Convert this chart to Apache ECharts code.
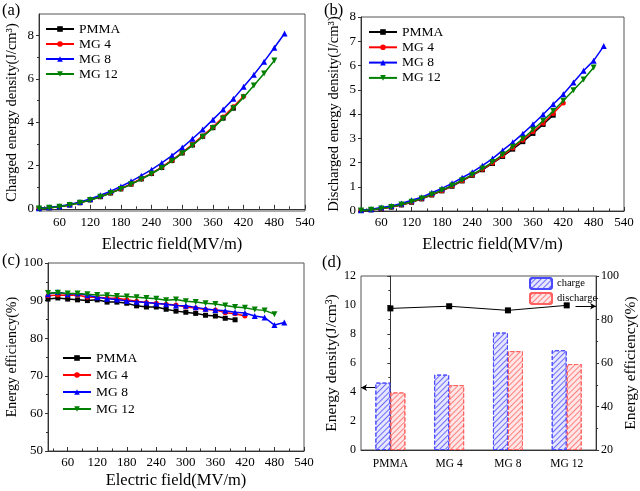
<!DOCTYPE html>
<html><head><meta charset="utf-8">
<script src="https://cdn.jsdelivr.net/npm/echarts@6/dist/echarts.min.js"></script>
<style>html,body{margin:0;padding:0;background:#fff}#c{width:640px;height:491px}</style>
</head><body><div id="c"></div>
<script>
// ---------- data ----------
const field = [20,40,60,80,100,120,140,160,180,200,220,240,260,280,300,320,340,360,380,400,420,440,460,480,500];
const xTickVals = [60,120,180,240,300,360,420,480,540];
const xMinorVals = [30,90,150,210,270,330,390,450,510];
const seriesNames = ['PMMA','MG 4','MG 8','MG 12'];

const chargePMMA = [0.02,0.05,0.1,0.18,0.28,0.41,0.56,0.73,0.92,1.14,1.38,1.63,1.91,2.23,2.58,2.95,3.35,3.75,4.19,4.65];
const chargeMG4  = [0.02,0.05,0.1,0.18,0.29,0.42,0.57,0.74,0.93,1.15,1.39,1.64,1.93,2.25,2.6,2.98,3.37,3.78,4.24,4.72,5.2];
const chargeMG8  = [0.03,0.07,0.12,0.2,0.32,0.46,0.63,0.82,1.03,1.27,1.53,1.81,2.12,2.46,2.83,3.24,3.66,4.12,4.59,5.08,5.64,6.19,6.8,7.44,8.1];
const chargeMG12 = [0.02,0.05,0.1,0.18,0.28,0.41,0.56,0.73,0.92,1.13,1.37,1.62,1.9,2.22,2.57,2.93,3.33,3.73,4.17,4.65,5.15,5.7,6.25,6.85];

const dischPMMA = [0.02,0.05,0.09,0.16,0.25,0.36,0.5,0.66,0.83,1.02,1.24,1.47,1.7,1.96,2.25,2.55,2.86,3.2,3.57,3.95];
const dischMG4  = [0.02,0.05,0.09,0.16,0.26,0.37,0.51,0.67,0.84,1.04,1.25,1.48,1.72,1.98,2.28,2.6,2.92,3.27,3.62,4.02,4.45];
const dischMG8  = [0.03,0.07,0.14,0.21,0.31,0.44,0.57,0.75,0.93,1.14,1.37,1.6,1.87,2.16,2.5,2.83,3.19,3.58,3.98,4.4,4.81,5.3,5.78,6.2,6.8];
const dischMG12 = [0.02,0.05,0.1,0.17,0.27,0.38,0.52,0.68,0.86,1.05,1.27,1.5,1.75,2.02,2.33,2.65,2.98,3.35,3.72,4.12,4.55,4.98,5.42,5.92];

const effPMMA = [90.4,90.7,90.4,90.2,90.0,90.2,89.6,89.6,89.3,88.6,88.3,88.3,87.7,87.2,86.9,86.6,86.1,85.9,85.3,84.9];
const effMG4  = [91.3,91.5,91.4,91.5,90.9,90.9,90.7,90.6,90.2,89.8,89.5,89.3,89.0,88.8,88.3,88.0,87.6,87.5,86.8,86.5,85.9];
const effMG8  = [91.7,92.3,91.7,91.9,91.4,90.9,90.5,90.3,89.9,89.7,89.5,89.2,89.0,88.7,88.6,88.2,87.8,87.5,87.3,86.9,86.7,85.9,85.5,83.5,84.2];
const effMG12 = [92.0,92.1,91.9,91.9,91.7,91.5,91.4,91.2,91.1,90.9,90.7,90.5,90.1,90.3,89.8,89.6,89.3,89.1,88.7,88.3,88.1,87.6,87.4,86.4];

const samples = ['PMMA','MG 4','MG 8','MG 12'];
const chargeMax = [4.65,5.2,8.1,6.88];
const dischargeMax = [3.97,4.48,6.82,5.93];
const effMax = [85.1,86.1,84.2,86.5];

// ---------- styles ----------
const FONT = "'Liberation Serif','Times New Roman',serif";
const colors = ['#000000','#ff0000','#0000ff','#008000'];
const symbols = ['rect','circle','triangle','path://M0,0 L10,0 L5,9 Z'];
const symSizes = [5,5,6,6];
const AX = '#333';

function pairs(arr){ return arr.map((v,i)=>[field[i], v]); }

function xAxes(grid, name, gap){
  return [{
    type:'value', gridIndex:grid, min:20, max:540, position:'bottom',
    name:name, nameLocation:'middle', nameGap:gap,
    nameTextStyle:{fontFamily:FONT,fontSize:16.5,color:'#000'},
    axisLine:{show:true,lineStyle:{color:AX,width:1}},
    axisTick:{show:true,inside:true,length:4,customValues:xTickVals,lineStyle:{color:AX}},
    axisLabel:{customValues:xTickVals,fontFamily:FONT,fontSize:13,color:'#000',margin:5},
    splitLine:{show:false}
  },{
    type:'value', gridIndex:grid, min:20, max:540, position:'bottom',
    axisLine:{show:false},
    axisTick:{show:true,inside:true,length:2.5,customValues:xMinorVals,lineStyle:{color:AX}},
    axisLabel:{show:false, customValues:[]},
    splitLine:{show:false}
  }];
}

function lineSeries(names, arrs, xi, yi){
  return arrs.map((a,k)=>({
    name:names[k], type:'line', xAxisIndex:xi, yAxisIndex:yi,
    data:pairs(a), symbol:symbols[k], symbolSize:symSizes[k],
    itemStyle:{color:colors[k]}, lineStyle:{color:colors[k],width:1.5},
    z: k===3 ? 4 : (k===2?3:2)
  }));
}

function legendFor(left, top, gap){
  return {
    data:seriesNames, orient:'vertical', left:left, top:top, padding:0,
    itemWidth:28, itemHeight:7, itemGap:gap,
    textStyle:{fontFamily:FONT,fontSize:13.5,color:'#000',lineHeight:14},
    selectedMode:false
  };
}

const yNameStyle = (fs)=>({fontFamily:FONT,fontSize:fs,color:'#000'});
const gridBorder = {show:true,borderColor:'#555',borderWidth:1};

const option = {
  backgroundColor:'#fff',
  animation:false,
  title:[
    {text:'(a)',left:2,top:2,textStyle:{fontFamily:FONT,fontSize:16.5,fontWeight:'normal',color:'#000'},padding:0},
    {text:'(b)',left:324,top:2,textStyle:{fontFamily:FONT,fontSize:16.5,fontWeight:'normal',color:'#000'},padding:0},
    {text:'(c)',left:2,top:252,textStyle:{fontFamily:FONT,fontSize:16.5,fontWeight:'normal',color:'#000'},padding:0},
    {text:'(d)',left:322,top:254,textStyle:{fontFamily:FONT,fontSize:16.5,fontWeight:'normal',color:'#000'},padding:0}
  ],
  grid:[
    Object.assign({left:39,top:14,width:266,height:197},gridBorder),
    Object.assign({left:361,top:17,width:263,height:194},gridBorder),
    Object.assign({left:48,top:263,width:256,height:188},gridBorder),
    Object.assign({left:361,top:276,width:237,height:174},gridBorder)
  ],
  legend:[
    legendFor(45,22,1),
    legendFor(368,25,1.3),
    legendFor(62,351,3),
    {data:['charge','discharge'],orient:'vertical',left:529,top:277,padding:0,
     itemWidth:22,itemHeight:11,itemGap:2,selectedMode:false,
     textStyle:{fontFamily:FONT,fontSize:10.5,color:'#000'}}
  ],
  xAxis:[
    ...xAxes(0,'Electric field(MV/m)',25),
    ...xAxes(1,'Electric field(MV/m)',25),
    ...xAxes(2,'Electric field(MV/m)',21),
    {type:'category',gridIndex:3,data:samples,position:'bottom',
     axisLine:{lineStyle:{color:AX}},axisTick:{show:false},
     axisLabel:{fontFamily:FONT,fontSize:11.5,color:'#000',margin:8}},
    {type:'value',gridIndex:3,min:-0.5,max:3.5,show:false}
  ],
  yAxis:[
    {type:'value',gridIndex:0,min:-0.1,max:9,position:'left',
     name:'Charged energy density(J/cm³)',nameLocation:'middle',nameGap:19,nameRotate:90,
     nameTextStyle:yNameStyle(14.5),
     axisLine:{show:true,lineStyle:{color:AX}},
     axisTick:{show:true,length:3,customValues:[0,2,4,6,8],lineStyle:{color:AX}},
     axisLabel:{customValues:[0,2,4,6,8],fontFamily:FONT,fontSize:13,color:'#000',margin:5},
     splitLine:{show:false}},
    {type:'value',gridIndex:0,min:-0.1,max:9,position:'left',
     axisLine:{show:false},
     axisTick:{show:true,length:2,customValues:[1,3,5,7],lineStyle:{color:AX}},
     axisLabel:{show:false,customValues:[]},splitLine:{show:false}},
    {type:'value',gridIndex:1,min:0,max:8,interval:1,position:'left',
     name:'Discharged energy density(J/cm³)',nameLocation:'middle',nameGap:19,nameRotate:90,
     nameTextStyle:yNameStyle(14.5),
     axisLine:{show:true,lineStyle:{color:AX}},
     axisTick:{show:true,length:3,lineStyle:{color:AX}},
     axisLabel:{fontFamily:FONT,fontSize:13,color:'#000',margin:5},
     splitLine:{show:false}},
    {type:'value',gridIndex:2,min:50,max:100,interval:10,position:'left',
     name:'Energy efficiency(%)',nameLocation:'middle',nameGap:27,nameRotate:90,
     nameTextStyle:yNameStyle(14),
     axisLine:{show:true,lineStyle:{color:AX}},
     axisTick:{show:true,length:3,lineStyle:{color:AX}},
     minorTick:{show:true,splitNumber:2,length:2,lineStyle:{color:AX}},
     axisLabel:{fontFamily:FONT,fontSize:13,color:'#000',margin:5},
     splitLine:{show:false}},
    {type:'value',gridIndex:3,min:0,max:12,interval:2,position:'left',
     name:'Energy density(J/cm³)',nameLocation:'middle',nameGap:20,nameRotate:90,
     nameTextStyle:yNameStyle(15.5),
     axisLine:{show:true,lineStyle:{color:AX}},
     axisTick:{show:true,length:3,lineStyle:{color:AX}},
     minorTick:{show:true,splitNumber:2,length:2,lineStyle:{color:AX}},
     axisLabel:{fontFamily:FONT,fontSize:12,color:'#000',margin:5},
     splitLine:{show:false}},
    {type:'value',gridIndex:3,min:20,max:100,interval:20,position:'right',
     name:'Energy efficiency(%)',nameLocation:'middle',nameGap:22,nameRotate:90,
     nameTextStyle:yNameStyle(15.5),
     axisLine:{show:true,lineStyle:{color:AX}},
     axisTick:{show:true,length:3,lineStyle:{color:AX}},
     minorTick:{show:true,splitNumber:2,length:2,lineStyle:{color:AX}},
     axisLabel:{fontFamily:FONT,fontSize:12,color:'#000',margin:5},
     splitLine:{show:false}}
  ],
  series:[
    ...lineSeries(seriesNames,[chargePMMA,chargeMG4,chargeMG8,chargeMG12],0,0),
    ...lineSeries(seriesNames,[dischPMMA,dischMG4,dischMG8,dischMG12],2,2),
    ...lineSeries(seriesNames,[effPMMA,effMG4,effMG8,effMG12],4,3),
    {name:'charge',type:'bar',xAxisIndex:6,yAxisIndex:4,data:chargeMax,barWidth:15,barGap:'0%',
     itemStyle:{color:'#e6e6ff',borderColor:'#4a4aff',borderWidth:1,borderType:'dashed',
       decal:{symbol:'rect',symbolSize:1,dashArrayX:[1,0],dashArrayY:[1,2.5],rotation:-Math.PI/4,color:'#6b6bff'}}},
    {name:'discharge',type:'bar',xAxisIndex:6,yAxisIndex:4,data:dischargeMax,barWidth:15,barGap:'0%',
     itemStyle:{color:'#ffe6e6',borderColor:'#ff6060',borderWidth:1,borderType:'dashed',
       decal:{symbol:'rect',symbolSize:1,dashArrayX:[1,0],dashArrayY:[1,2.5],rotation:-Math.PI/4,color:'#ff8080'}}},
    {name:'efficiency',type:'line',xAxisIndex:6,yAxisIndex:5,data:effMax,
     symbol:'rect',symbolSize:6,itemStyle:{color:'#000'},lineStyle:{color:'#000',width:1},z:5},
    {name:'arrowL',type:'line',xAxisIndex:7,yAxisIndex:4,data:[],
     markLine:{silent:true,symbol:['none','arrow'],symbolSize:[5,6],label:{show:false},
       lineStyle:{color:'#000',width:1,type:'solid'},
       data:[[{coord:[-0.26,4.3]},{coord:[-0.5,4.3]}]]}},
    {name:'arrowR',type:'line',xAxisIndex:7,yAxisIndex:5,data:[],
     markLine:{silent:true,symbol:['none','arrow'],symbolSize:[5,6],label:{show:false},
       lineStyle:{color:'#000',width:1,type:'solid'},
       data:[[{coord:[3.15,86.1]},{coord:[3.5,86.1]}]]}}
  ]
};

const chart = echarts.init(document.getElementById('c'),null,{renderer:'canvas'});
chart.setOption(option);
</script>
</body></html>
